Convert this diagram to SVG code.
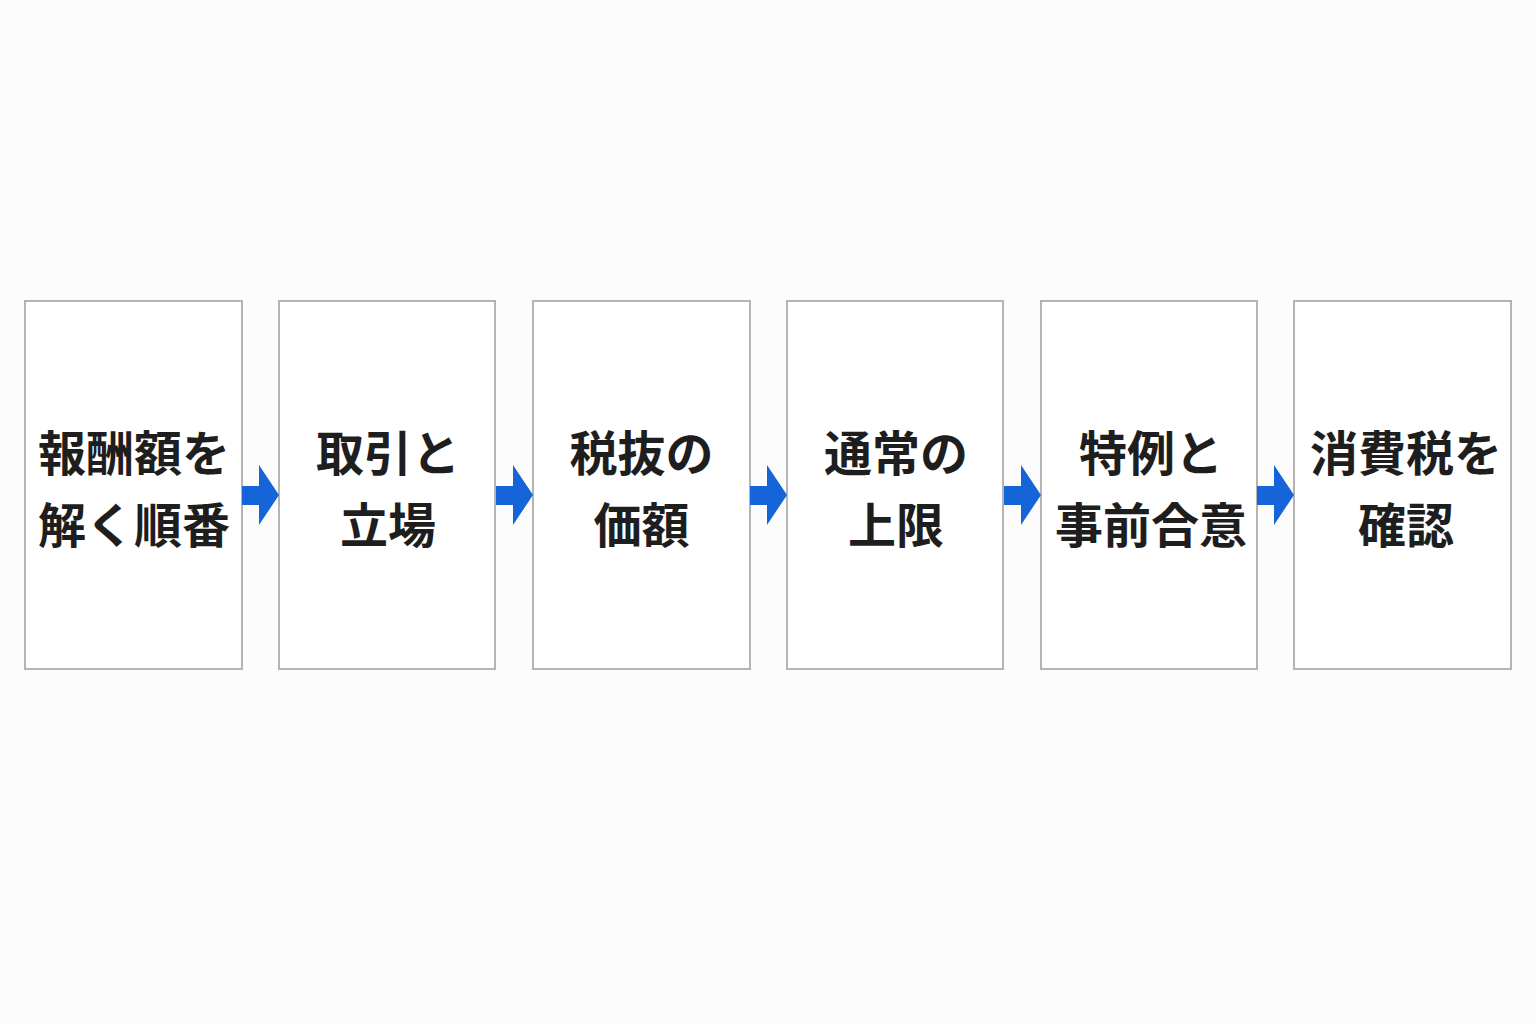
<svg xmlns="http://www.w3.org/2000/svg" width="1536" height="1024" viewBox="0 0 1536 1024">
<style>
.box{fill:#ffffff;stroke:#b4b4b4;stroke-width:2}
.t{font-family:"Noto Sans CJK JP","Noto Sans CJK SC",sans-serif;font-weight:700;font-size:48px;fill:#1e1e1e;text-anchor:middle}
.arr{fill:#1565d8}
</style>
<rect width="1536" height="1024" fill="#fcfcfc"/>
<g id="n1"><rect class="box" x="25" y="301" width="217" height="368"/><text class="t" x="134" y="471">報酬額を</text><text class="t" x="134" y="543">解く順番</text></g>
<g id="n2"><rect class="box" x="279" y="301" width="216" height="368"/><text class="t" x="388" y="471">取引と</text><text class="t" x="388" y="543">立場</text></g>
<g id="n3"><rect class="box" x="533" y="301" width="217" height="368"/><text class="t" x="641.5" y="471">税抜の</text><text class="t" x="641.5" y="543">価額</text></g>
<g id="n4"><rect class="box" x="787" y="301" width="216" height="368"/><text class="t" x="896" y="471">通常の</text><text class="t" x="896" y="543">上限</text></g>
<g id="n5"><rect class="box" x="1041" y="301" width="216" height="368"/><text class="t" x="1151" y="471">特例と</text><text class="t" x="1151" y="543">事前合意</text></g>
<g id="n6"><rect class="box" x="1294" y="301" width="217" height="368"/><text class="t" x="1406" y="471">消費税を</text><text class="t" x="1406" y="543">確認</text></g>
<g id="connectors">
<polygon class="arr" points="242,486 259,486 259,465 279,495 259,525 259,505 242,505"/>
<polygon class="arr" points="496,486 513,486 513,465 533,495 513,525 513,505 496,505"/>
<polygon class="arr" points="750,486 767,486 767,465 787,495 767,525 767,505 750,505"/>
<polygon class="arr" points="1004,486 1021,486 1021,465 1041,495 1021,525 1021,505 1004,505"/>
<polygon class="arr" points="1257,486 1274,486 1274,465 1294,495 1274,525 1274,505 1257,505"/>
</g>
</svg>
